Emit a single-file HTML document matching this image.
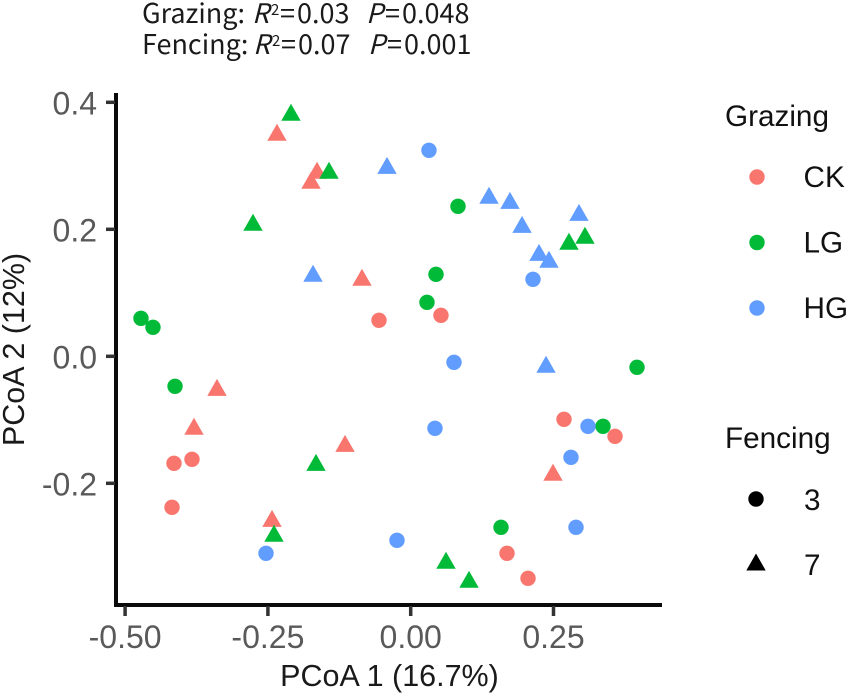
<!DOCTYPE html>
<html>
<head>
<meta charset="utf-8">
<style>
html,body{margin:0;padding:0;background:#fff;}
svg{display:block;font-family:"Liberation Sans",sans-serif;}
.note{font-family:"Noto Sans CJK SC","Liberation Sans",sans-serif;font-size:27px;fill:#1a1a1a;}
.tick{font-size:32px;fill:#595959;}
.axt{font-size:30.5px;fill:#1a1a1a;}
.leg{font-size:29.7px;fill:#111;}
</style>
</head>
<body>
<svg id="chart" xmlns="http://www.w3.org/2000/svg" width="850" height="696" viewBox="0 0 850 696">
  <g>
    <text class="note" y="23"><tspan x="142">Grazing:</tspan><tspan x="252" font-style="italic">R</tspan><tspan x="271" y="15" font-size="15">2</tspan><tspan x="280" y="23">=</tspan><tspan x="297">0.03</tspan><tspan x="366" font-style="italic">P</tspan><tspan x="385">=</tspan><tspan x="402">0.048</tspan></text>
    <text class="note" y="54"><tspan x="142">Fencing:</tspan><tspan x="253" font-style="italic">R</tspan><tspan x="272" y="46" font-size="15">2</tspan><tspan x="281" y="54">=</tspan><tspan x="298">0.07</tspan><tspan x="368" font-style="italic">P</tspan><tspan x="387">=</tspan><tspan x="404">0.001</tspan></text>
  </g>
  <g id="axes"></g>
  <g id="points"></g>
  <text class="axt" x="389.5" y="686" text-anchor="middle">PCoA 1 (16.7%)</text>
  <text class="axt" transform="translate(24,349.5) rotate(-90)" text-anchor="middle">PCoA 2 (12%)</text>
  <g id="legend">
    <text class="leg" x="725" y="126">Grazing</text>
    <text class="leg" x="725" y="448">Fencing</text>
  </g>
</svg>
<script>
const xTicks = [-0.5, -0.25, 0, 0.25];
const xTickLabels = ["-0.50", "-0.25", "0.00", "0.25"];
const yTicks = [0.4, 0.2, 0, -0.2];
const yTickLabels = ["0.4", "0.2", "0.0", "-0.2"];

const ckCircleX = [-0.0555, 0.053, -0.4144, -0.3829, -0.4179, 0.2684, 0.3577, 0.1686, 0.2054];
const ckCircleY = [0.0567, 0.0646, -0.1685, -0.1622, -0.2378, -0.0992, -0.126, -0.3102, -0.3496];
const ckTriangleX = [-0.2341, -0.164, -0.1745, -0.0853, -0.3391, -0.3794, -0.115, 0.2491, -0.2428];
const ckTriangleY = [0.3496, 0.2898, 0.274, 0.1213, -0.052, -0.1134, -0.1402, -0.1858, -0.2583];

const lgCircleX = [0.0828, 0.0443, 0.0285, -0.4722, -0.4512, -0.4126, 0.3962, 0.3367, 0.1581];
const lgCircleY = [0.2362, 0.1291, 0.085, 0.0598, 0.0457, -0.0472, -0.0173, -0.1102, -0.2693];
const lgTriangleX = [-0.2096, -0.143, -0.2761, 0.2771, 0.3051, -0.1658, -0.2393, 0.0618, 0.1021];
const lgTriangleY = [0.3811, 0.2898, 0.2079, 0.178, 0.1874, -0.1701, -0.2819, -0.3244, -0.3543];

const hgCircleX = [0.032, 0.2141, 0.0758, 0.0425, 0.3104, 0.2806, 0.2894, -0.024, -0.2533];
const hgCircleY = [0.3244, 0.1213, -0.0094, -0.1134, -0.1102, -0.1591, -0.2693, -0.2898, -0.3102];
const hgTriangleX = [-0.0415, 0.1371, 0.1738, 0.1949, 0.2246, 0.2421, 0.2946, -0.171, 0.2369];
const hgTriangleY = [0.2976, 0.2504, 0.2425, 0.2047, 0.1606, 0.1496, 0.2236, 0.1276, -0.0157];

const grazingLabels = ["CK", "LG", "HG"];
const fencingLabels = ["3", "7"];

const NS = "http://www.w3.org/2000/svg";
const COLORS = { CK: "#F8766D", LG: "#00BA38", HG: "#619CFF" };
const sx = v => 410.7 + v * 571.2;
const sy = v => 356.3 - v * 635;

function make(parent, tag, attrs) {
  const el = document.createElementNS(NS, tag);
  for (const k in attrs) el.setAttribute(k, attrs[k]);
  parent.appendChild(el);
  return el;
}
function circle(parent, cx, cy, fill) {
  return make(parent, "circle", { cx: cx, cy: cy, r: 7.7, fill: fill });
}
function triangle(parent, cx, cy, fill) {
  const p = [[cx, cy - 10.5], [cx + 9.7, cy + 6.5], [cx - 9.7, cy + 6.5]];
  return make(parent, "polygon", { points: p.map(a => a.join(",")).join(" "), fill: fill });
}

const axes = document.getElementById("axes");
const yAxisLine = make(axes, "line", { x1: 116, y1: 93, x2: 116, y2: 607, stroke: "#0a0a0a", "stroke-width": 4 });


const xAxisLine = make(axes, "line", { x1: 114, y1: 605, x2: 662, y2: 605, stroke: "#0a0a0a", "stroke-width": 4 });



xTicks.forEach((t, i) => {
  const mark = make(axes, "line", { x1: sx(t), y1: 606, x2: sx(t), y2: 616, stroke: "#333", "stroke-width": 3.5 });
  
  
  const label = make(axes, "text", { x: sx(t), y: 648, "text-anchor": "middle", class: "tick" });
  label.textContent = xTickLabels[i];
  
  
});
yTicks.forEach((t, i) => {
  const mark = make(axes, "line", { x1: 106, y1: sy(t), x2: 115, y2: sy(t), stroke: "#333", "stroke-width": 3.5 });
  
  
  const label = make(axes, "text", { x: 97, y: sy(t) + 12, "text-anchor": "end", class: "tick" });
  label.textContent = yTickLabels[i];
  
  
});

const pts = document.getElementById("points");
function drawCircles(xs, ys, color) {
  xs.forEach((x, i) => {
    const c = circle(pts, sx(x), sy(ys[i]), color);
    
    
  });
}
function drawTriangles(xs, ys, color) {
  xs.forEach((x, i) => {
    const c = triangle(pts, sx(x), sy(ys[i]), color);
    
    
  });
}
drawCircles(ckCircleX, ckCircleY, COLORS.CK);
drawTriangles(ckTriangleX, ckTriangleY, COLORS.CK);
drawCircles(lgCircleX, lgCircleY, COLORS.LG);
drawTriangles(lgTriangleX, lgTriangleY, COLORS.LG);
drawCircles(hgCircleX, hgCircleY, COLORS.HG);
drawTriangles(hgTriangleX, hgTriangleY, COLORS.HG);

const legend = document.getElementById("legend");
grazingLabels.forEach((name, i) => {
  const y = 177 + i * 65.5;
  const key = circle(legend, 757, y, COLORS[name]);
  
  
  const label = make(legend, "text", { x: 803.5, y: y + 10, class: "leg" });
  label.textContent = name;
  
  
});
fencingLabels.forEach((name, i) => {
  const y = 499 + i * 65;
  const key = i === 0 ? circle(legend, 756, y, "#000") : triangle(legend, 756, y, "#000");
  
  
  const label = make(legend, "text", { x: 804, y: y + 11, class: "leg" });
  label.textContent = name;
  
  
});
</script>
</body>
</html>
